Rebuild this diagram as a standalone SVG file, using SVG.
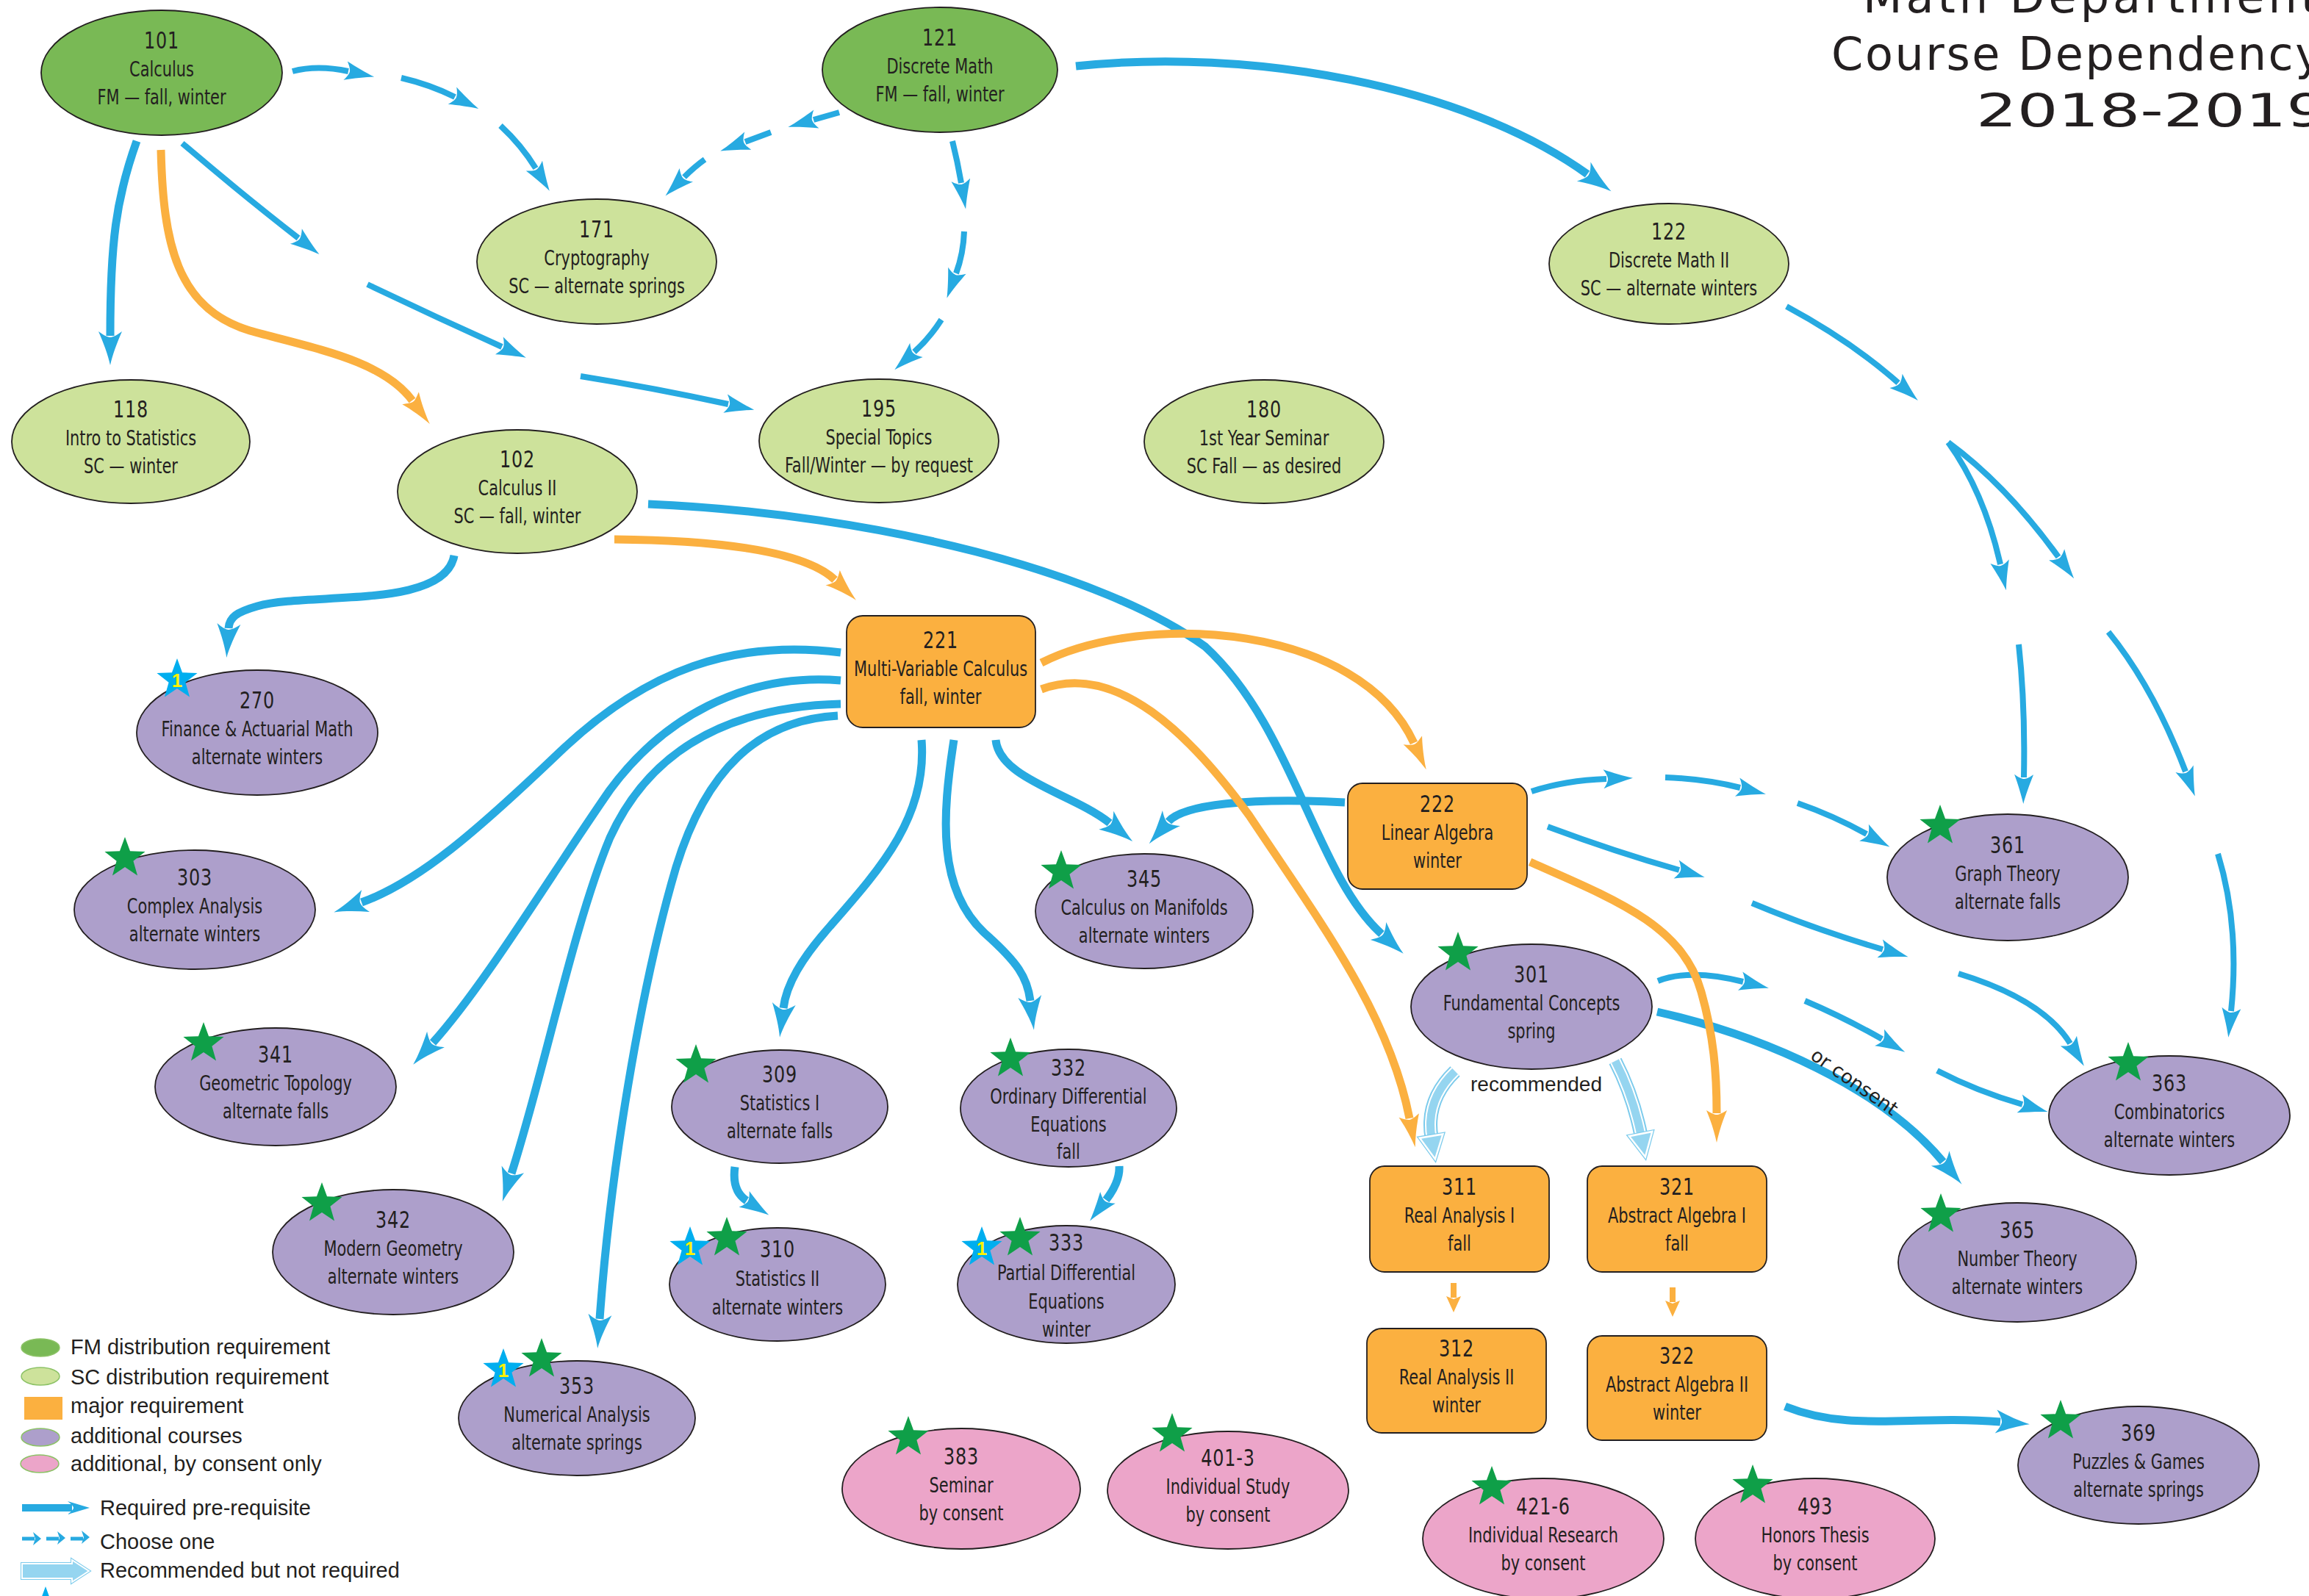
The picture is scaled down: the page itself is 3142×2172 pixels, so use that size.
<svg xmlns="http://www.w3.org/2000/svg" xmlns:xlink="http://www.w3.org/1999/xlink" width="3142" height="2172" viewBox="0 0 3142 2172">
<style>
.fm{fill:#79b955;stroke:#231f20;stroke-width:1.8}
.sc{fill:#cde29b;stroke:#231f20;stroke-width:1.8}
.mj{fill:#fbb040;stroke:#231f20;stroke-width:1.8}
.ad{fill:#ad9fcb;stroke:#231f20;stroke-width:1.8}
.pk{fill:#eca5c9;stroke:#231f20;stroke-width:1.8}
.t{font-family:"DejaVu Sans Condensed","Liberation Sans",sans-serif;font-size:28px;fill:#231f20;text-anchor:middle}
.n{font-size:32px;letter-spacing:1px}
.req{fill:none;stroke:#27aae1;stroke-width:11;marker-end:url(#hb)}
.ch{fill:none;stroke:#27aae1;stroke-width:8;marker-end:url(#hs)}
.org{fill:none;stroke:#fbb040;stroke-width:11;marker-end:url(#ho)}
.orgs{fill:none;stroke:#fbb040;stroke-width:8;marker-end:url(#hos)}
.rc1{fill:none;stroke:#7ccbec;stroke-width:19}
.rc2{fill:none;stroke:#ffffff;stroke-width:15}
.rc3{fill:none;stroke:#95d5f0;stroke-width:11;marker-end:url(#hr)}
.gs{fill:#0f9f48}
.bs{fill:#00aeef}
.one{font-family:"Liberation Sans",sans-serif;font-weight:bold;font-size:26px;fill:#fff200;text-anchor:middle}
.lg{font-family:"Liberation Sans",sans-serif;font-size:29px;fill:#231f20}
.ttl{font-family:"DejaVu Sans",sans-serif;font-size:62px;fill:#231f20}
.lbl{font-family:"Liberation Sans",sans-serif;font-size:28px;fill:#231f20}
.lbl2{font-family:"DejaVu Sans",sans-serif;font-size:26px;fill:#231f20}
</style>
<defs>
<marker id="hb" markerUnits="userSpaceOnUse" markerWidth="80" markerHeight="80" refX="0" refY="0" orient="auto" overflow="visible">
<path d="M40,0 C26,-3 10,-9 -6,-16 C0,-8 2,-3 2,0 C2,3 0,8 -6,16 C10,9 26,3 40,0 Z" fill="#27aae1"/>
</marker>
<marker id="hs" markerUnits="userSpaceOnUse" markerWidth="80" markerHeight="80" refX="0" refY="0" orient="auto" overflow="visible">
<path d="M36,0 C24,-3 9,-8 -4,-13 C1,-6 2,-2 2,0 C2,2 1,6 -4,13 C9,8 24,3 36,0 Z" fill="#27aae1"/>
</marker>
<marker id="ho" markerUnits="userSpaceOnUse" markerWidth="80" markerHeight="80" refX="0" refY="0" orient="auto" overflow="visible">
<path d="M40,0 C26,-3 10,-8 -4,-14 C0,-7 2,-3 2,0 C2,3 0,7 -4,14 C10,8 26,3 40,0 Z" fill="#fbb040"/>
</marker>
<marker id="hos" markerUnits="userSpaceOnUse" markerWidth="40" markerHeight="40" refX="0" refY="0" orient="auto" overflow="visible">
<path d="M20,0 L-2,-10 L2,0 L-2,10 Z" fill="#fbb040"/>
</marker>
<marker id="hr" markerUnits="userSpaceOnUse" markerWidth="80" markerHeight="80" refX="0" refY="0" orient="auto" overflow="visible">
<polygon points="-2,-16 30,0 -2,16" fill="none" stroke="#7ccbec" stroke-width="5" stroke-linejoin="miter"/>
<polygon points="-2,-16 30,0 -2,16" fill="#95d5f0" stroke="#ffffff" stroke-width="2.5"/>
</marker>
<polygon id="st" points="0,-29 7.05,-9.71 27.58,-8.96 11.41,3.71 17.05,23.46 0,12 -17.05,23.46 -11.41,3.71 -27.58,-8.96 -7.05,-9.71"/>
</defs>
<rect x="0" y="0" width="3142" height="2172" fill="#ffffff"/>

<g id="title">
<text class="ttl" x="2535" y="17" textLength="620">Math Department</text>
<text class="ttl" x="2492" y="95" textLength="668">Course Dependency</text>
<text class="ttl" x="2689" y="172" textLength="478" lengthAdjust="spacingAndGlyphs">2018-2019</text>
</g>

<g id="connectors">
<path class="ch" d="M398,97 Q432,88 474,97"/>
<path class="ch" d="M546,106 Q585,115 619,132"/>
<path class="ch" d="M681,171 Q710,198 729,229"/>
<path class="ch" d="M1142,153 L1107,163"/>
<path class="ch" d="M1049,180 L1014,193"/>
<path class="ch" d="M959,217 Q945,227 931,241"/>
<path class="ch" d="M1296,192 Q1303,220 1308,249"/>
<path class="ch" d="M1312,315 Q1311,345 1301,372"/>
<path class="ch" d="M1281,435 Q1265,460 1244,479"/>
<path class="ch" d="M248,195 Q330,265 406,324"/>
<path class="ch" d="M500,387 Q590,430 683,472"/>
<path class="ch" d="M790,512 Q890,528 991,550"/>
<path class="ch" d="M2431,417 Q2520,465 2583,521"/>
<path class="ch" d="M2651,602 Q2700,670 2722,768"/>
<path class="ch" d="M2747,877 Q2756,960 2754,1058"/>
<path class="ch" d="M2651,602 Q2730,660 2801,758"/>
<path class="ch" d="M2869,860 Q2930,935 2974,1050"/>
<path class="ch" d="M3018,1162 Q3048,1260 3036,1376"/>
<path class="ch" d="M2084,1077 Q2130,1062 2186,1060"/>
<path class="ch" d="M2266,1058 Q2320,1060 2368,1072"/>
<path class="ch" d="M2446,1093 Q2495,1110 2540,1135"/>
<path class="ch" d="M2106,1125 Q2200,1160 2285,1184"/>
<path class="ch" d="M2384,1229 Q2470,1265 2562,1292"/>
<path class="ch" d="M2665,1325 Q2780,1360 2817,1420"/>
<path class="ch" d="M2256,1335 Q2300,1318 2372,1336"/>
<path class="ch" d="M2456,1362 Q2510,1385 2561,1414"/>
<path class="ch" d="M2636,1457 Q2690,1485 2752,1503"/>
<path class="req" d="M186,192 C158,270 150,330 150,457"/>
<path class="req" d="M1464,90 C1700,65 1990,115 2160,237"/>
<path class="req" d="M618,756 C605,830 420,805 350,825 C322,833 312,840 311,855"/>
<path class="req" d="M882,686 C1200,700 1500,780 1640,880 C1760,990 1790,1190 1880,1271"/>
<path class="req" d="M1144,888 C1000,870 880,910 760,1025 C650,1130 570,1200 492,1228"/>
<path class="req" d="M1144,926 C1010,915 900,980 830,1075 C750,1190 660,1340 589,1419"/>
<path class="req" d="M1144,958 C980,962 880,1030 830,1140 C780,1260 740,1460 696,1597"/>
<path class="req" d="M1140,974 C1030,980 960,1050 920,1180 C870,1350 830,1600 816,1795"/>
<path class="req" d="M1254,1007 C1262,1110 1200,1180 1130,1260 C1090,1305 1070,1340 1066,1372"/>
<path class="req" d="M1298,1007 C1282,1110 1275,1210 1340,1270 C1385,1310 1398,1330 1402,1362"/>
<path class="req" d="M1355,1007 C1360,1060 1460,1080 1510,1120"/>
<path class="req" d="M1830,1092 C1700,1085 1610,1095 1590,1118"/>
<path class="req" style="marker-end:url(#hs)" d="M1000,1588 C997,1610 1002,1625 1016,1634"/>
<path class="req" style="marker-end:url(#hs)" d="M1523,1587 C1524,1605 1515,1620 1505,1633"/>
<path class="req" d="M2255,1377 C2400,1410 2560,1480 2644,1581"/>
<path class="req" d="M2429,1914 C2520,1950 2600,1925 2722,1935"/>
<path class="org" d="M219,204 C222,330 240,420 340,450 C430,475 520,490 561,545"/>
<path class="org" d="M836,734 C950,735 1090,745 1136,789"/>
<path class="org" d="M1417,902 C1560,830 1850,850 1924,1011"/>
<path class="org" d="M1417,938 C1520,900 1620,1000 1700,1110 C1800,1260 1890,1380 1918,1522"/>
<path class="org" d="M2082,1173 C2200,1225 2290,1260 2315,1350 C2332,1410 2336,1460 2336,1515"/>
<path class="orgs" d="M1978,1746 L1978,1766"/>
<path class="orgs" d="M2276,1752 L2276,1772"/>
<path class="rc1" d="M1980,1458 C1955,1482 1942,1512 1948,1548"/>
<path class="rc2" d="M1980,1458 C1955,1482 1942,1512 1948,1548"/>
<path class="rc3" d="M1980,1458 C1955,1482 1942,1512 1948,1548"/>
<path class="rc1" d="M2198,1444 C2214,1475 2226,1510 2233,1545"/>
<path class="rc2" d="M2198,1444 C2214,1475 2226,1510 2233,1545"/>
<path class="rc3" d="M2198,1444 C2214,1475 2226,1510 2233,1545"/>
<text class="lbl" x="2001" y="1485">recommended</text>
<text class="lbl2" x="2462" y="1440" transform="rotate(35 2462 1440)">or consent</text>
</g>

<g id="n101"><ellipse class="fm" cx="220" cy="99" rx="164" ry="85"/><text class="t" transform="translate(220 0) scale(0.83 1)"><tspan class="n" x="0" y="66">101</tspan><tspan x="0" y="104">Calculus</tspan><tspan x="0" y="142">FM — fall, winter</tspan></text></g>
<g id="n121"><ellipse class="fm" cx="1279" cy="95" rx="160" ry="85"/><text class="t" transform="translate(1279 0) scale(0.83 1)"><tspan class="n" x="0" y="62">121</tspan><tspan x="0" y="100">Discrete Math</tspan><tspan x="0" y="138">FM — fall, winter</tspan></text></g>
<g id="n171"><ellipse class="sc" cx="812" cy="356" rx="163" ry="85"/><text class="t" transform="translate(812 0) scale(0.83 1)"><tspan class="n" x="0" y="323">171</tspan><tspan x="0" y="361">Cryptography</tspan><tspan x="0" y="399">SC — alternate springs</tspan></text></g>
<g id="n122"><ellipse class="sc" cx="2271" cy="359" rx="163" ry="82"/><text class="t" transform="translate(2271 0) scale(0.83 1)"><tspan class="n" x="0" y="326">122</tspan><tspan x="0" y="364">Discrete Math II</tspan><tspan x="0" y="402">SC — alternate winters</tspan></text></g>
<g id="n118"><ellipse class="sc" cx="178" cy="601" rx="162" ry="84"/><text class="t" transform="translate(178 0) scale(0.83 1)"><tspan class="n" x="0" y="568">118</tspan><tspan x="0" y="606">Intro to Statistics</tspan><tspan x="0" y="644">SC — winter</tspan></text></g>
<g id="n195"><ellipse class="sc" cx="1196" cy="600" rx="163" ry="84"/><text class="t" transform="translate(1196 0) scale(0.83 1)"><tspan class="n" x="0" y="567">195</tspan><tspan x="0" y="605">Special Topics</tspan><tspan x="0" y="643">Fall/Winter — by request</tspan></text></g>
<g id="n180"><ellipse class="sc" cx="1720" cy="601" rx="163" ry="84"/><text class="t" transform="translate(1720 0) scale(0.83 1)"><tspan class="n" x="0" y="568">180</tspan><tspan x="0" y="606">1st Year Seminar</tspan><tspan x="0" y="644">SC Fall — as desired</tspan></text></g>
<g id="n102"><ellipse class="sc" cx="704" cy="669" rx="163" ry="84"/><text class="t" transform="translate(704 0) scale(0.83 1)"><tspan class="n" x="0" y="636">102</tspan><tspan x="0" y="674">Calculus II</tspan><tspan x="0" y="712">SC — fall, winter</tspan></text></g>

<g id="n221"><rect class="mj" x="1152" y="838" width="257" height="152" rx="22"/><text class="t" transform="translate(1280 0) scale(0.83 1)"><tspan class="n" x="0" y="882">221</tspan><tspan x="0" y="920">Multi-Variable Calculus</tspan><tspan x="0" y="958">fall, winter</tspan></text></g>
<g id="n222"><rect class="mj" x="1834" y="1066" width="244" height="144" rx="20"/><text class="t" transform="translate(1956 0) scale(0.83 1)"><tspan class="n" x="0" y="1105">222</tspan><tspan x="0" y="1143">Linear Algebra</tspan><tspan x="0" y="1181">winter</tspan></text></g>
<g id="n311"><rect class="mj" x="1864" y="1587" width="244" height="144" rx="20"/><text class="t" transform="translate(1986 0) scale(0.83 1)"><tspan class="n" x="0" y="1626">311</tspan><tspan x="0" y="1664">Real Analysis I</tspan><tspan x="0" y="1702">fall</tspan></text></g>
<g id="n321"><rect class="mj" x="2160" y="1587" width="244" height="144" rx="20"/><text class="t" transform="translate(2282 0) scale(0.83 1)"><tspan class="n" x="0" y="1626">321</tspan><tspan x="0" y="1664">Abstract Algebra I</tspan><tspan x="0" y="1702">fall</tspan></text></g>
<g id="n312"><rect class="mj" x="1860" y="1808" width="244" height="142" rx="20"/><text class="t" transform="translate(1982 0) scale(0.83 1)"><tspan class="n" x="0" y="1846">312</tspan><tspan x="0" y="1884">Real Analysis II</tspan><tspan x="0" y="1922">winter</tspan></text></g>
<g id="n322"><rect class="mj" x="2160" y="1818" width="244" height="142" rx="20"/><text class="t" transform="translate(2282 0) scale(0.83 1)"><tspan class="n" x="0" y="1856">322</tspan><tspan x="0" y="1894">Abstract Algebra II</tspan><tspan x="0" y="1932">winter</tspan></text></g>

<g id="n270"><ellipse class="ad" cx="350" cy="997" rx="164" ry="85"/><text class="t" transform="translate(350 0) scale(0.83 1)"><tspan class="n" x="0" y="964">270</tspan><tspan x="0" y="1002">Finance &amp; Actuarial Math</tspan><tspan x="0" y="1040">alternate winters</tspan></text><use href="#st" x="241" y="925" class="bs"/><text class="one" x="241" y="935">1</text></g>
<g id="n303"><ellipse class="ad" cx="265" cy="1238" rx="164" ry="81"/><text class="t" transform="translate(265 0) scale(0.83 1)"><tspan class="n" x="0" y="1205">303</tspan><tspan x="0" y="1243">Complex Analysis</tspan><tspan x="0" y="1281">alternate winters</tspan></text><use href="#st" x="170" y="1168" class="gs"/></g>
<g id="n341"><ellipse class="ad" cx="375" cy="1479" rx="164" ry="80"/><text class="t" transform="translate(375 0) scale(0.83 1)"><tspan class="n" x="0" y="1446">341</tspan><tspan x="0" y="1484">Geometric Topology</tspan><tspan x="0" y="1522">alternate falls</tspan></text><use href="#st" x="277" y="1420" class="gs"/></g>
<g id="n342"><ellipse class="ad" cx="535" cy="1704" rx="164" ry="85"/><text class="t" transform="translate(535 0) scale(0.83 1)"><tspan class="n" x="0" y="1671">342</tspan><tspan x="0" y="1709">Modern Geometry</tspan><tspan x="0" y="1747">alternate winters</tspan></text><use href="#st" x="438" y="1638" class="gs"/></g>
<g id="n353"><ellipse class="ad" cx="785" cy="1930" rx="161" ry="78"/><text class="t" transform="translate(785 0) scale(0.83 1)"><tspan class="n" x="0" y="1897">353</tspan><tspan x="0" y="1935">Numerical Analysis</tspan><tspan x="0" y="1973">alternate springs</tspan></text><use href="#st" x="685" y="1864" class="bs"/><text class="one" x="685" y="1874">1</text><use href="#st" x="737" y="1850" class="gs"/></g>
<g id="n309"><ellipse class="ad" cx="1061" cy="1506" rx="147" ry="77"/><text class="t" transform="translate(1061 0) scale(0.83 1)"><tspan class="n" x="0" y="1473">309</tspan><tspan x="0" y="1511">Statistics I</tspan><tspan x="0" y="1549">alternate falls</tspan></text><use href="#st" x="947" y="1450" class="gs"/></g>
<g id="n310"><ellipse class="ad" cx="1058" cy="1748" rx="147" ry="77"/><text class="t" transform="translate(1058 0) scale(0.83 1)"><tspan class="n" x="0" y="1711">310</tspan><tspan x="0" y="1750">Statistics II</tspan><tspan x="0" y="1789">alternate winters</tspan></text><use href="#st" x="939" y="1698" class="bs"/><text class="one" x="939" y="1708">1</text><use href="#st" x="989" y="1685" class="gs"/></g>
<g id="n332"><ellipse class="ad" cx="1454" cy="1508" rx="147" ry="80"/><text class="t" transform="translate(1454 0) scale(0.83 1)"><tspan class="n" x="0" y="1464">332</tspan><tspan x="0" y="1502">Ordinary Differential</tspan><tspan x="0" y="1540">Equations</tspan><tspan x="0" y="1577">fall</tspan></text><use href="#st" x="1375" y="1441" class="gs"/></g>
<g id="n333"><ellipse class="ad" cx="1451" cy="1748" rx="148" ry="80"/><text class="t" transform="translate(1451 0) scale(0.83 1)"><tspan class="n" x="0" y="1702">333</tspan><tspan x="0" y="1742">Partial Differential</tspan><tspan x="0" y="1781">Equations</tspan><tspan x="0" y="1819">winter</tspan></text><use href="#st" x="1336" y="1698" class="bs"/><text class="one" x="1336" y="1708">1</text><use href="#st" x="1388" y="1685" class="gs"/></g>
<g id="n345"><ellipse class="ad" cx="1557" cy="1240" rx="148" ry="78"/><text class="t" transform="translate(1557 0) scale(0.83 1)"><tspan class="n" x="0" y="1207">345</tspan><tspan x="0" y="1245">Calculus on Manifolds</tspan><tspan x="0" y="1283">alternate winters</tspan></text><use href="#st" x="1444" y="1186" class="gs"/></g>
<g id="n301"><ellipse class="ad" cx="2084" cy="1370" rx="164" ry="85"/><text class="t" transform="translate(2084 0) scale(0.83 1)"><tspan class="n" x="0" y="1337">301</tspan><tspan x="0" y="1375">Fundamental Concepts</tspan><tspan x="0" y="1413">spring</tspan></text><use href="#st" x="1984" y="1297" class="gs"/></g>
<g id="n361"><ellipse class="ad" cx="2732" cy="1194" rx="164" ry="86"/><text class="t" transform="translate(2732 0) scale(0.83 1)"><tspan class="n" x="0" y="1161">361</tspan><tspan x="0" y="1199">Graph Theory</tspan><tspan x="0" y="1237">alternate falls</tspan></text><use href="#st" x="2640" y="1124" class="gs"/></g>
<g id="n363"><ellipse class="ad" cx="2952" cy="1518" rx="164" ry="81"/><text class="t" transform="translate(2952 0) scale(0.83 1)"><tspan class="n" x="0" y="1485">363</tspan><tspan x="0" y="1523">Combinatorics</tspan><tspan x="0" y="1561">alternate winters</tspan></text><use href="#st" x="2896" y="1447" class="gs"/></g>
<g id="n365"><ellipse class="ad" cx="2745" cy="1718" rx="162" ry="81"/><text class="t" transform="translate(2745 0) scale(0.83 1)"><tspan class="n" x="0" y="1685">365</tspan><tspan x="0" y="1723">Number Theory</tspan><tspan x="0" y="1761">alternate winters</tspan></text><use href="#st" x="2641" y="1653" class="gs"/></g>
<g id="n369"><ellipse class="ad" cx="2910" cy="1994" rx="164" ry="80"/><text class="t" transform="translate(2910 0) scale(0.83 1)"><tspan class="n" x="0" y="1961">369</tspan><tspan x="0" y="1999">Puzzles &amp; Games</tspan><tspan x="0" y="2037">alternate springs</tspan></text><use href="#st" x="2804" y="1934" class="gs"/></g>

<g id="n383"><ellipse class="pk" cx="1308" cy="2026" rx="162" ry="82"/><text class="t" transform="translate(1308 0) scale(0.83 1)"><tspan class="n" x="0" y="1993">383</tspan><tspan x="0" y="2031">Seminar</tspan><tspan x="0" y="2069">by consent</tspan></text><use href="#st" x="1236" y="1956" class="gs"/></g>
<g id="n401"><ellipse class="pk" cx="1671" cy="2028" rx="164" ry="80"/><text class="t" transform="translate(1671 0) scale(0.83 1)"><tspan class="n" x="0" y="1995">401-3</tspan><tspan x="0" y="2033">Individual Study</tspan><tspan x="0" y="2071">by consent</tspan></text><use href="#st" x="1595" y="1952" class="gs"/></g>
<g id="n421"><ellipse class="pk" cx="2100" cy="2094" rx="164" ry="82"/><text class="t" transform="translate(2100 0) scale(0.83 1)"><tspan class="n" x="0" y="2061">421-6</tspan><tspan x="0" y="2099">Individual Research</tspan><tspan x="0" y="2137">by consent</tspan></text><use href="#st" x="2030" y="2024" class="gs"/></g>
<g id="n493"><ellipse class="pk" cx="2470" cy="2094" rx="163" ry="82"/><text class="t" transform="translate(2470 0) scale(0.83 1)"><tspan class="n" x="0" y="2061">493</tspan><tspan x="0" y="2099">Honors Thesis</tspan><tspan x="0" y="2137">by consent</tspan></text><use href="#st" x="2385" y="2022" class="gs"/></g>

<g id="legend">
<ellipse cx="55" cy="1834" rx="26" ry="12" fill="#79b955" stroke="#8cc266" stroke-width="1.5"/>
<text class="lg" x="96" y="1843">FM distribution requirement</text>
<ellipse cx="55" cy="1873" rx="26" ry="12" fill="#cde29b" stroke="#8cc266" stroke-width="1.5"/>
<text class="lg" x="96" y="1884">SC distribution requirement</text>
<rect x="33" y="1901" width="52" height="31" fill="#fbb040"/>
<text class="lg" x="96" y="1923">major requirement</text>
<ellipse cx="55" cy="1956" rx="26" ry="12" fill="#ad9fcb" stroke="#8cc266" stroke-width="1.5"/>
<text class="lg" x="96" y="1964">additional courses</text>
<ellipse cx="54" cy="1992" rx="26" ry="12" fill="#eca5c9" stroke="#8cc266" stroke-width="1.5"/>
<text class="lg" x="96" y="2002">additional, by consent only</text>
<path d="M30,2052 L98,2052" stroke="#27aae1" stroke-width="10" fill="none"/>
<path d="M122,2052 C112,2049 102,2046 92,2043 C97,2047 100,2050 100,2052 C100,2054 97,2057 92,2061 C102,2058 112,2055 122,2052 Z" fill="#27aae1"/>
<text class="lg" x="136" y="2062">Required pre-requisite</text>
<path d="M30,2094 L47,2094 M63,2094 L80,2094 M96,2094 L113,2094" stroke="#27aae1" stroke-width="5" fill="none"/>
<path d="M56,2094 L45,2085 L48,2094 L45,2103 Z M89,2093 L78,2084 L81,2093 L78,2102 Z M122,2092 L111,2083 L114,2092 L111,2101 Z" fill="#27aae1"/>
<text class="lg" x="136" y="2108">Choose one</text>
<polygon points="30,2128 98,2128 98,2123 121,2138 98,2153 98,2148 30,2148" fill="none" stroke="#7ccbec" stroke-width="4"/>
<polygon points="30,2128 98,2128 98,2123 121,2138 98,2153 98,2148 30,2148" fill="#95d5f0" stroke="#ffffff" stroke-width="2"/>
<text class="lg" x="136" y="2147">Recommended but not required</text>
<use href="#st" x="62" y="2188" class="bs"/>
</g>
</svg>
